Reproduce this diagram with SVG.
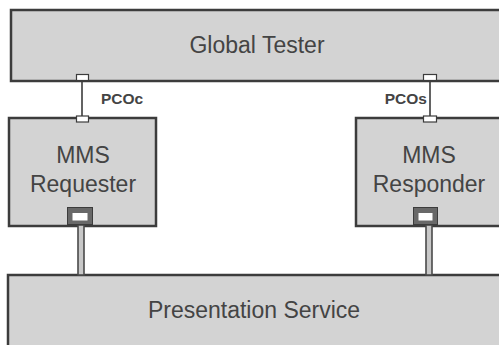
<svg xmlns="http://www.w3.org/2000/svg" width="499" height="345" viewBox="0 0 499 345">
  <style>
    .box { fill: #d3d3d3; stroke: #3c3c3c; stroke-width: 2.5; }
    .label { font-family: "Liberation Sans", Arial, sans-serif; font-size: 23px; fill: #444444; text-anchor: middle; }
    .pco { font-family: "Liberation Sans", Arial, sans-serif; font-size: 15.5px; font-weight: bold; fill: #444444; }
    .port { fill: #ffffff; stroke: #3c3c3c; stroke-width: 1.2; }
    .sap { fill: #686868; stroke: #3c3c3c; stroke-width: 1; }
    .link { stroke: #3c3c3c; stroke-width: 1.6; fill: none; }
    .pipe { fill: #c8c8c8; stroke: #4a4a4a; stroke-width: 1.6; }
  </style>
  <rect width="499" height="345" fill="#ffffff"/>

  <g id="global-tester">
    <rect class="box" x="11" y="10" width="500" height="71"/>
    <text class="label" x="257" y="53">Global Tester</text>
  </g>

  <g id="mms-requester">
    <rect class="box" x="9" y="118" width="147" height="108"/>
    <text class="label" x="83" y="163">MMS</text>
    <text class="label" x="83" y="192">Requester</text>
  </g>

  <g id="mms-responder">
    <rect class="box" x="356" y="118" width="160" height="108"/>
    <text class="label" x="429" y="163">MMS</text>
    <text class="label" x="429" y="192">Responder</text>
  </g>

  <g id="presentation-service">
    <rect class="box" x="8" y="275" width="510" height="90"/>
    <text class="label" x="254" y="318">Presentation Service</text>
  </g>

  <g id="connectors">
    <!-- PCOc: tester to requester -->
    <line class="link" x1="82" y1="80" x2="82" y2="117"/>
    <rect class="port" x="76.5" y="74.5" width="12" height="6"/>
    <rect class="port" x="76.5" y="116" width="12" height="6"/>
    <text class="pco" x="101" y="104">PCOc</text>

    <!-- PCOs: tester to responder -->
    <line class="link" x1="430" y1="80" x2="430" y2="117"/>
    <rect class="port" x="423.5" y="74.5" width="13" height="6"/>
    <rect class="port" x="423.5" y="116" width="13" height="6"/>
    <text class="pco" x="427" y="104" text-anchor="end">PCOs</text>

    <!-- service access points down to the presentation service -->
    <rect class="pipe" x="78" y="225" width="6" height="50"/>
    <rect class="sap" x="67.5" y="207.5" width="25" height="17"/>
    <rect fill="#ffffff" x="72.5" y="213" width="15" height="7.5"/>

    <rect class="pipe" x="426" y="225" width="6" height="50"/>
    <rect class="sap" x="413.5" y="207.5" width="24" height="17"/>
    <rect fill="#ffffff" x="418.5" y="213" width="14" height="7.5"/>
  </g>
</svg>
